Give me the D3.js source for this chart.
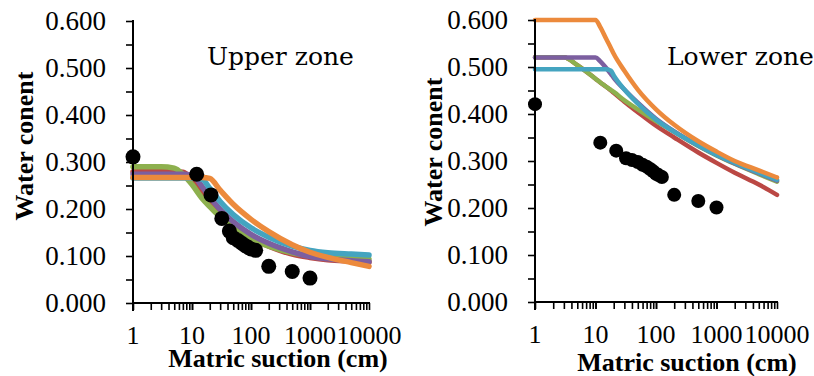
<!DOCTYPE html>
<html><head><meta charset="utf-8">
<script src="https://cdn.jsdelivr.net/npm/d3@7"></script>
<style>body{margin:0;background:#fff}svg{display:block}</style>
</head><body><svg id="c" width="814" height="376"></svg>
<script>
// ---------- data ----------
const yTickValues = [0, 0.1, 0.2, 0.3, 0.4, 0.5, 0.6];
const xTickValues = [1, 10, 100, 1000, 10000];
const seriesNames = ["Red", "Green", "Purple", "Blue", "Orange"];
const seriesColors = ["#BB4844", "#8DB04E", "#7C5FA0", "#44A4C0", "#EC8A3C"];

// Upper zone
const upperCurveX = [1, 3, 5, 7, 10, 15, 20, 30, 50, 100, 200, 500, 1000, 2000, 5000, 10000];
const upperRed    = [.279,.279,.279,.278,.263,.233,.213,.189,.164,.138,.121,.104,.097,.092,.089,.087];
const upperGreen  = [.290,.290,.287,.274,.252,.222,.205,.183,.160,.136,.121,.107,.101,.097,.094,.093];
const upperPurple = [.274,.274,.274,.274,.272,.247,.226,.199,.173,.146,.127,.109,.099,.094,.090,.088];
const upperBlue   = [.266,.266,.266,.266,.266,.263,.244,.216,.188,.160,.140,.121,.112,.107,.104,.102];
const upperOrange = [.267,.267,.267,.267,.267,.267,.265,.240,.210,.178,.152,.124,.108,.097,.086,.078];
const upperObsX = [1, 12, 21, 32, 43, 50, 60, 70, 80, 90, 100, 120, 200, 500, 1000];
const upperObsY = [.311,.274,.230,.180,.153,.139,.133,.127,.122,.118,.115,.112,.078,.067,.053];

// Lower zone
const lowerCurveX = [1, 3, 5, 10, 12, 15, 18, 20, 30, 50, 100, 200, 500, 1000, 2000, 5000, 10000];
const lowerRed    = [.521,.521,.504,.475,.467,.458,.450,.445,.426,.404,.375,.350,.318,.296,.275,.250,.228];
const lowerGreen  = [.521,.521,.504,.475,.467,.458,.451,.447,.429,.410,.385,.362,.332,.312,.294,.272,.256];
const lowerPurple = [.520,.520,.520,.520,.512,.498,.485,.477,.452,.424,.390,.363,.333,.313,.295,.274,.258];
const lowerBlue   = [.495,.495,.495,.495,.495,.495,.492,.482,.452,.422,.388,.362,.333,.313,.296,.275,.260];
const lowerOrange = [.600,.600,.600,.600,.585,.560,.540,.528,.492,.452,.410,.377,.342,.320,.300,.280,.265];
const lowerObsX = [1, 12, 22, 32, 40, 50, 60, 70, 80, 90, 100, 110, 125, 200, 500, 1000];
const lowerObsY = [.421,.339,.322,.306,.302,.298,.292,.288,.283,.278,.273,.270,.266,.228,.215,.201];

const panels = [
  {title:"Upper zone", cx:upperCurveX, curves:[upperRed,upperGreen,upperPurple,upperBlue,upperOrange],
   ox:upperObsX, oy:upperObsY, left:133, right:369, top:21, bottom:303, lw:5.5, r:7.5,
   titleX:207, yTitleX:33, yTitleY:146, xTitleY:367, xTitleCX:278},
  {title:"Lower zone", cx:lowerCurveX, curves:[lowerRed,lowerGreen,lowerPurple,lowerBlue,lowerOrange],
   ox:lowerObsX, oy:lowerObsY, left:535, right:777, top:20, bottom:302, lw:4.5, r:7,
   titleX:667, yTitleX:442, yTitleY:152, xTitleY:371, xTitleCX:687}
];

const svg = d3.select("#c");

panels.forEach(p => {
  const x = d3.scaleLog().domain([1, 10000]).range([p.left, p.right]);
  const y = d3.scaleLinear().domain([0, 0.6]).range([p.bottom, p.top]);
  const g = svg.append("g");

  // curves
  const line = d3.line().x(d => x(d[0])).y(d => y(d[1])).curve(d3.curveMonotoneX);
  p.curves.forEach((vals, i) => {
    g.append("path").datum(p.cx.map((v, j) => [v, vals[j]]))
      .attr("d", line).attr("fill", "none")
      .attr("stroke", seriesColors[i]).attr("stroke-width", p.lw)
      .attr("stroke-linejoin", "round").attr("stroke-linecap", "round");
  });

  // y axis
  const yAxis = d3.axisLeft(y).tickValues(d3.range(0, 0.6001, 0.05)).tickSize(7)
    .tickFormat(d => "");
  const ya = g.append("g").attr("transform", `translate(${p.left},0)`).call(yAxis);
  ya.select(".domain").attr("stroke", "#000").attr("stroke-width", 2)
    .attr("d", `M0,${p.top - 1}V${p.bottom + 8}`);
  ya.selectAll(".tick line").attr("stroke", "#000").attr("stroke-width", 1.6);
  g.selectAll(".ylab").data(yTickValues).enter().append("text")
    .attr("x", p.left - 27).attr("y", d => y(d) + 9)
    .attr("text-anchor", "end").attr("font-family", "Liberation Serif").attr("font-size", 27)
    .text(d => d3.format(".3f")(d));

  // x axis
  const minor = [];
  for (let e = 0; e < 4; e++) for (let k = 1; k <= 10; k++) minor.push(k * Math.pow(10, e));
  const xAxis = d3.axisBottom(x).tickValues(minor).tickSize(7).tickFormat(d => "");
  const xa = g.append("g").attr("transform", `translate(0,${p.bottom})`).call(xAxis);
  xa.select(".domain").attr("stroke", "#000").attr("stroke-width", 2)
    .attr("d", `M${p.left},0H${p.right + 1}`);
  xa.selectAll(".tick line").attr("stroke", "#000").attr("stroke-width", 1.6);
  g.selectAll(".xlab").data(xTickValues).enter().append("text")
    .attr("x", d => x(d)).attr("y", p.bottom + 41)
    .attr("text-anchor", "middle").attr("font-family", "Liberation Serif").attr("font-size", 26)
    .text(d => d);

  // observed points
  g.selectAll(".pt").data(p.ox.map((v, j) => [v, p.oy[j]])).enter().append("circle")
    .attr("cx", d => x(d[0])).attr("cy", d => y(d[1])).attr("r", p.r).attr("fill", "#000");

  // texts
  g.append("text").attr("x", p.titleX).attr("y", 65)
    .attr("font-family", "DejaVu Serif").attr("font-size", 25).text(p.title);
  g.append("text").attr("x", p.xTitleCX).attr("y", p.xTitleY).attr("text-anchor", "middle")
    .attr("font-family", "Liberation Serif").attr("font-weight", "bold").attr("font-size", 26)
    .text("Matric suction (cm)");
  g.append("text").attr("transform", `translate(${p.yTitleX},${p.yTitleY}) rotate(-90)`)
    .attr("text-anchor", "middle")
    .attr("font-family", "Liberation Serif").attr("font-weight", "bold").attr("font-size", 26)
    .text("Water conent");
});
</script></body></html>
